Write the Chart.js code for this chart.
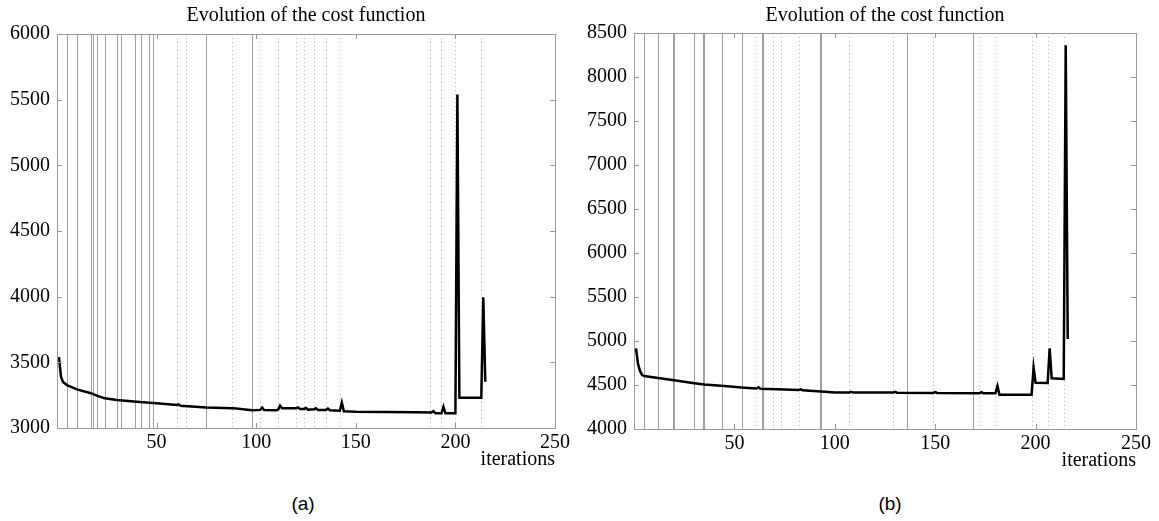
<!DOCTYPE html>
<html>
<head>
<meta charset="utf-8">
<script src="https://cdn.jsdelivr.net/npm/chart.js@4.4.1/dist/chart.umd.min.js"></script>
<style>
  body { margin: 0; background: #fff; width: 1159px; height: 521px; position: relative; overflow: hidden; }
  canvas { position: absolute; top: 0; }
  .cap { position: absolute; top: 493px; width: 60px; text-align: center; font-family: "Liberation Sans", Arial, sans-serif; font-size: 19px; color: #000; }
</style>
</head>
<body>
<canvas id="chartA" width="580" height="472" style="left:0"></canvas>
<canvas id="chartB" width="582" height="473" style="left:577px"></canvas>
<div class="cap" style="left:273px">(a)</div>
<div class="cap" style="left:860px">(b)</div>
<script>
// (a) cost per iteration
const iterA = [1, 2, 3, 5, 10, 17, 20, 24, 30, 40, 50, 60, 61, 62, 75, 88, 90, 98, 102, 103, 104,
  110, 111, 112, 113, 120, 121, 122, 124, 125, 126, 129, 130, 131, 135, 136, 137, 142, 143, 144,
  150, 180, 188, 189, 190, 193, 194, 195, 200, 201, 202, 213, 214, 215];
const costA = [3540, 3390, 3350, 3327, 3294, 3265, 3246, 3226, 3213, 3200, 3188, 3175, 3180, 3170, 3157, 3150, 3148, 3135, 3138, 3155, 3137,
  3135, 3140, 3170, 3150, 3150, 3157, 3145, 3145, 3152, 3140, 3142, 3150, 3138, 3138, 3148, 3135, 3132, 3193, 3128,
  3124, 3120, 3118, 3128, 3112, 3112, 3162, 3112, 3112, 5540, 3231, 3231, 3995, 3352];
const solidA = [5, 10, 17, 18, 20, 24, 30, 32, 39, 42, 46, 48, 75, 98];
const dottedA = [60, 65, 88, 102, 111, 120, 124, 129, 135, 142, 187, 193, 200, 213];

// (b) cost per iteration
const iterB = [1, 2, 3, 4, 5, 12, 20, 30, 35, 45, 55, 61, 62, 63, 75, 82, 83, 84, 95, 100, 107, 108, 109,
  129, 130, 131, 149, 150, 151, 172, 173, 174, 180, 181, 182, 198, 199, 200, 206, 207, 208, 214, 215, 216];
const costB = [4917, 4740, 4660, 4615, 4602, 4580, 4555, 4520, 4505, 4488, 4470, 4460, 4474, 4458, 4450, 4443, 4451, 4440, 4422, 4414, 4414, 4422, 4414,
  4414, 4422, 4413, 4410, 4420, 4410, 4405, 4418, 4405, 4405, 4489, 4388, 4388, 4697, 4526, 4522, 4917, 4576, 4568, 8360, 5023];
const solidB = [5, 12, 19.5, 20, 30, 34.5, 35, 44, 54, 63.5, 64, 92.5, 93, 136, 169];
const dottedB = [60.5, 69, 73, 82, 107, 129, 149, 172, 180, 198, 206, 214];

const titleText = 'Evolution of the cost function';
const xTitle = 'iterations';

const serif = '"Liberation Serif", "Times New Roman", serif';
Chart.defaults.font.family = serif;
Chart.defaults.font.size = 20;
Chart.defaults.color = '#000';

// vertical marker lines, matlab style box and inward ticks
const marks = {
  id: 'marks',
  beforeDatasetsDraw(chart, args, opts) {
    const { ctx, chartArea: a, scales: { x } } = chart;
    ctx.save();
    ctx.lineWidth = 1;
    ctx.strokeStyle = '#a0a0a0';
    for (const v of opts.solid) {
      const px = Math.round(x.getPixelForValue(v)) + 0.5;
      ctx.beginPath(); ctx.moveTo(px, a.top); ctx.lineTo(px, a.bottom); ctx.stroke();
    }
    ctx.strokeStyle = '#b4b4b4';
    ctx.setLineDash([1, 3]);
    for (const v of opts.dotted) {
      const px = Math.round(x.getPixelForValue(v)) + 0.5;
      ctx.beginPath(); ctx.moveTo(px, a.top); ctx.lineTo(px, a.bottom); ctx.stroke();
    }
    ctx.restore();
  },
  afterDraw(chart) {
    const { ctx, chartArea: a, scales: { x, y } } = chart;
    ctx.save();
    ctx.strokeStyle = '#999';
    ctx.lineWidth = 1;
    ctx.strokeRect(Math.round(a.left) + 0.5, Math.round(a.top) + 0.5, Math.round(a.right - a.left), Math.round(a.bottom - a.top));
    ctx.beginPath();
    x.ticks.forEach(t => {
      if (t.value <= x.min || t.value >= x.max) return;
      const px = Math.round(x.getPixelForValue(t.value)) + 0.5;
      ctx.moveTo(px, a.top); ctx.lineTo(px, a.top + 5);
      ctx.moveTo(px, a.bottom); ctx.lineTo(px, a.bottom - 5);
    });
    y.ticks.forEach(t => {
      if (t.value <= y.min || t.value >= y.max) return;
      const py = Math.round(y.getPixelForValue(t.value)) + 0.5;
      ctx.moveTo(a.left, py); ctx.lineTo(a.left + 5, py);
      ctx.moveTo(a.right, py); ctx.lineTo(a.right - 5, py);
    });
    ctx.stroke();
    ctx.restore();
  }
};

function makeChart(id, iters, costs, yMin, yMax, solid, dotted, yWidth, rightPad, titlePad) {
  new Chart(document.getElementById(id), {
    type: 'line',
    data: {
      datasets: [{
        data: iters.map((v, i) => ({ x: v, y: costs[i] })),
        borderColor: '#000',
        borderWidth: 2.5,
        pointRadius: 0,
        tension: 0,
        fill: false
      }]
    },
    options: {
      responsive: false,
      animation: false,
      layout: { padding: { left: 0, right: rightPad, top: 0, bottom: 0 } },
      plugins: {
        legend: { display: false },
        tooltip: { enabled: false },
        title: {
          display: true,
          text: titleText,
          fullSize: false,
          font: { family: serif, size: 20, weight: 'normal' },
          color: '#000',
          padding: titlePad
        },
        marks: { solid: solid, dotted: dotted }
      },
      scales: {
        x: {
          type: 'linear',
          min: 0,
          max: 250,
          grid: { display: false, drawTicks: false },
          border: { display: false },
          ticks: {
            stepSize: 50,
            maxRotation: 0,
            padding: 3,
            font: { family: serif, size: 20 },
            callback: v => v === 0 ? '' : String(v)
          },
          title: {
            display: true,
            text: xTitle,
            align: 'end',
            font: { family: serif, size: 20 },
            padding: { top: 0, bottom: 0 }
          },
          afterFit: s => { s.height = 44; }
        },
        y: {
          min: yMin,
          max: yMax,
          grid: { display: false, drawTicks: false },
          border: { display: false },
          ticks: { stepSize: 500, padding: 7, font: { family: serif, size: 20 }, callback: v => String(v) },
          afterFit: s => { s.width = yWidth; }
        }
      }
    },
    plugins: [marks]
  });
}

makeChart('chartA', iterA, costA, 3000, 6000, solidA, dottedA, 57, 25, { top: 4, bottom: 6 });
makeChart('chartB', iterB, costB, 4000, 8500, solidB, dottedB, 57, 23, { top: 4, bottom: 5 });
</script>
</body>
</html>
